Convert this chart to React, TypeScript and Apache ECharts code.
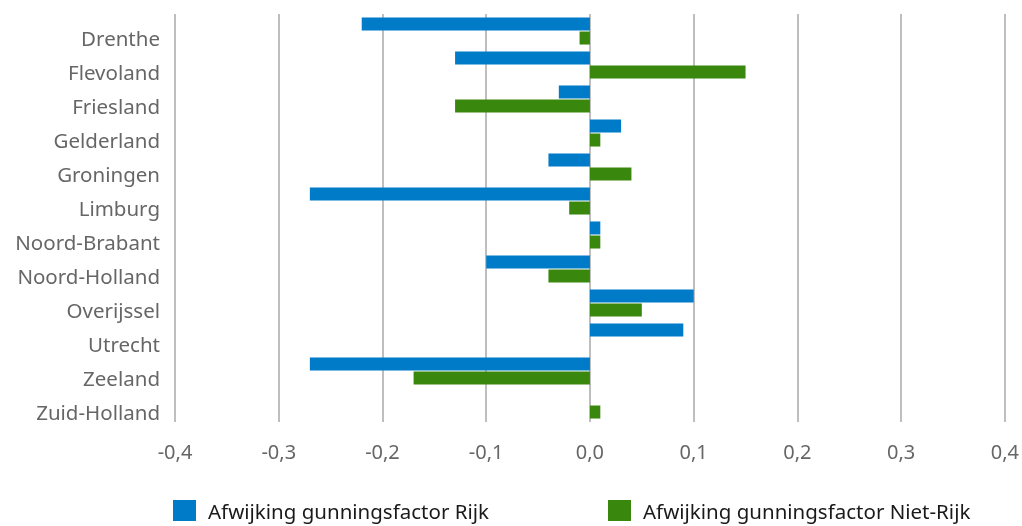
import React, { useEffect, useRef } from "react";
import * as echarts from "echarts";

const categories = [
  "Drenthe",
  "Flevoland",
  "Friesland",
  "Gelderland",
  "Groningen",
  "Limburg",
  "Noord-Brabant",
  "Noord-Holland",
  "Overijssel",
  "Utrecht",
  "Zeeland",
  "Zuid-Holland",
];
const seriesNames = [
  "Afwijking gunningsfactor Rijk",
  "Afwijking gunningsfactor Niet-Rijk",
];
const rijk = [-0.22, -0.13, -0.03, 0.03, -0.04, -0.27, 0.01, -0.1, 0.1, 0.09, -0.27, 0];
const nietRijk = [-0.01, 0.15, -0.13, 0.01, 0.04, -0.02, 0.01, -0.04, 0.05, 0, -0.17, 0.01];

const FONT = "Noto Sans";

export default function App() {
  const ref = useRef<HTMLDivElement>(null);
  useEffect(() => {
    if (!ref.current) return;
    const chart = echarts.init(ref.current, undefined, { renderer: "svg" });
    const legendText = {
      fontFamily: FONT,
      fontSize: 20.5,
      color: "#1a1a1a",
      padding: [0, 0, 0, 7],
    };
    chart.setOption({
      animation: false,
      grid: { left: 175, right: 16, top: 14, bottom: 104, containLabel: false },
      legend: [
        {
          data: [seriesNames[0]],
          left: 173,
          top: 500,
          padding: 0,
          itemWidth: 23,
          itemHeight: 21,
          icon: "rect",
          textStyle: legendText,
        },
        {
          data: [seriesNames[1]],
          left: 608,
          top: 500,
          padding: 0,
          itemWidth: 23,
          itemHeight: 21,
          icon: "rect",
          textStyle: legendText,
        },
      ],
      xAxis: {
        type: "value",
        min: -0.4,
        max: 0.4,
        interval: 0.1,
        axisLine: { show: false },
        axisTick: { show: false },
        splitLine: { show: true, lineStyle: { color: "#a8a8a8", width: 1.5 } },
        axisLabel: {
          fontFamily: FONT,
          fontSize: 20,
          color: "#666666",
          margin: 19,
          formatter: (v: number) => {
            const s = (Math.round(v * 10) / 10).toFixed(1).replace(".", ",");
            return s === "-0,0" ? "0,0" : s;
          },
        },
      },
      yAxis: {
        type: "category",
        data: categories,
        inverse: true,
        axisLine: { show: false },
        axisTick: { show: false },
        splitLine: { show: false },
        axisLabel: {
          fontFamily: FONT,
          fontSize: 20.5,
          color: "#666666",
          margin: 15,
          verticalAlign: "top",
          lineHeight: 14,
        },
      },
      series: [
        {
          name: seriesNames[0],
          type: "bar",
          data: rijk,
          barWidth: 13,
          barGap: "8%",
          itemStyle: { color: "#007bc7" },
        },
        {
          name: seriesNames[1],
          type: "bar",
          data: nietRijk,
          barWidth: 13,
          barGap: "8%",
          itemStyle: { color: "#39870c" },
        },
      ],
    });
    return () => chart.dispose();
  }, []);
  return (
    <div
      ref={ref}
      style={{ position: "fixed", left: 0, top: 0, width: 1022, height: 526 }}
    />
  );
}
